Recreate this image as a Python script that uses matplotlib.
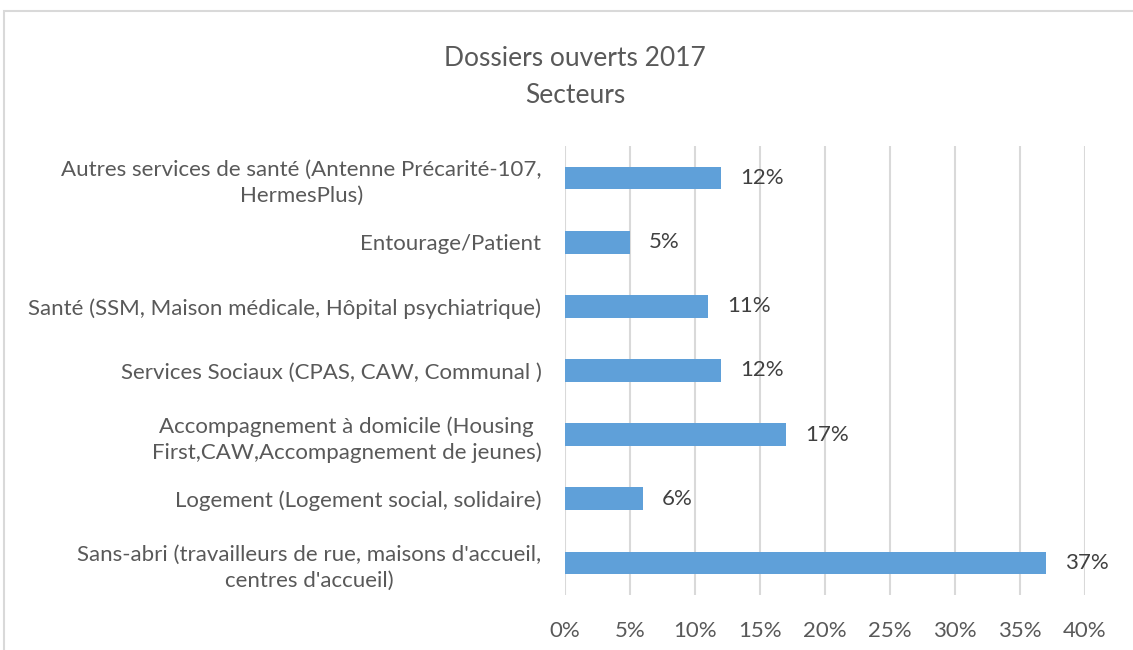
import matplotlib
matplotlib.use("Agg")
import matplotlib.pyplot as plt
from matplotlib.patches import Rectangle
from matplotlib.ticker import FuncFormatter

categories = [
    "Autres services de santé (Antenne Précarité-107,\nHermesPlus)",
    "Entourage/Patient",
    "Santé (SSM, Maison médicale, Hôpital psychiatrique)",
    "Services Sociaux (CPAS, CAW, Communal )",
    "Accompagnement à domicile (Housing\nFirst,CAW,Accompagnement de jeunes)",
    "Logement (Logement social, solidaire)",
    "Sans-abri (travailleurs de rue, maisons d'accueil,\ncentres d'accueil)",
]
values = [12, 5, 11, 12, 17, 6, 37]
x_ticks = [0, 5, 10, 15, 20, 25, 30, 35, 40]
title = "Dossiers ouverts 2017\nSecteurs"

plt.rcParams['font.family'] = ['Lato', 'DejaVu Sans']

W, H = 1133, 650
fig = plt.figure(figsize=(W / 100, H / 100), dpi=100)
fig.patch.set_facecolor("white")

# chart frame
fig.patches.append(Rectangle((4 / W, -0.1), 1.2, 1 - 11 / H + 0.1,
                             transform=fig.transFigure, fill=False,
                             edgecolor="#D9D9D9", linewidth=1.5))

ax = fig.add_axes([565 / W, 1 - 595 / H, (1085 - 565) / W, (595 - 146) / H])
y = list(range(len(categories)))
ax.barh(y, values, height=0.355, color="#5FA0D9", zorder=3)
ax.set_ylim(len(categories) - 0.5, -0.5)
ax.set_xlim(0, 40)
ax.set_xticks(x_ticks)
ax.xaxis.set_major_formatter(FuncFormatter(lambda v, p: f"{v:.0f}%"))
ax.grid(axis="x", color="#D9D9D9", linewidth=1.5, zorder=0)
for s in ax.spines.values():
    s.set_visible(False)
ax.tick_params(axis="x", length=0, pad=19, labelsize=16, labelcolor="#595959")
ax.tick_params(axis="y", length=0, pad=17)
ax.set_yticks(y)
ax.set_yticklabels(categories, fontsize=16, color="#595959", multialignment="center",
                   linespacing=1.35)

for yi, v in zip(y, values):
    ax.annotate(f"{v}%", (v, yi), xytext=(13.5, 0), textcoords="offset points",
                va="center", ha="left", fontsize=16, color="#404040")

fig.text(575 / W, 1 - 77 / H, title, ha="center", va="center", fontsize=19,
         color="#595959", linespacing=1.6)

fig.savefig("out.png", dpi=100)
